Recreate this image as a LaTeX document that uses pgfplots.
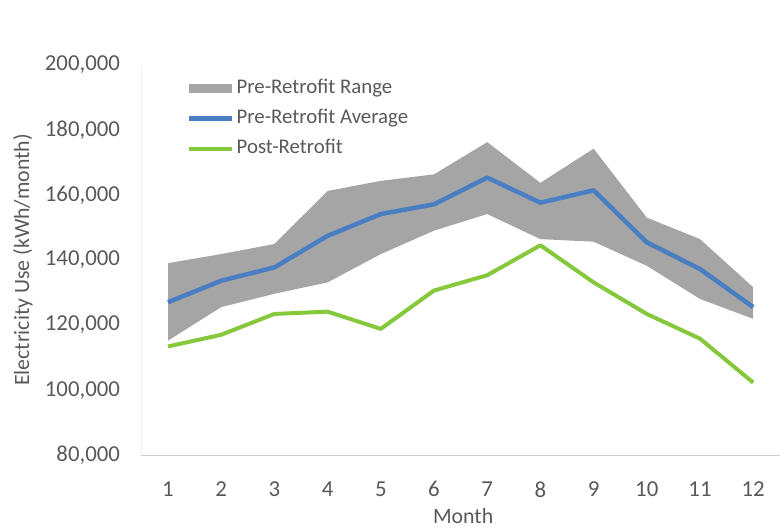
\documentclass[border=0pt]{standalone}
\usepackage{pgfplots}
\pgfplotsset{compat=1.18}
\usepgfplotslibrary{fillbetween}
\usepackage{fontspec}
\setmainfont{Carlito}
\definecolor{txt}{HTML}{595959}
\definecolor{rangegray}{HTML}{A5A5A5}
\definecolor{avgblue}{HTML}{4A7EC2}
\definecolor{postgreen}{HTML}{86C83C}
\begin{document}
\begin{tikzpicture}
\begin{axis}[
  at={(0,0)}, anchor=south west,
  scale only axis, width=641bp, height=392bp,
  xmin=0.5, xmax=12.5, ymin=80000, ymax=200000,
  xtick={1,...,12},
  xticklabels={1,2,3,4,5,6,7,8,9,10,11,12},
  ytick={80000,100000,120000,140000,160000,180000,200000},
  yticklabels={{80,000},{100,000},{120,000},{140,000},{160,000},{180,000},{200,000}},
  scaled y ticks=false,
  tick label style={font=\fontsize{23}{27}\selectfont, text=txt},
  xticklabel style={yshift=-23bp},
  yticklabel style={xshift=-18bp},
  major tick length=0pt,
  axis x line*=bottom, axis y line*=left,
  x axis line style={draw=black!18, -},
  y axis line style={draw=black!5, -},
  xlabel={Month}, ylabel={Electricity Use (kWh/month)},
  every axis x label/.style={at={(rel axis cs:0.504,-0.1556)}, anchor=center,
    font=\fontsize{22}{26}\selectfont, text=txt},
  every axis y label/.style={at={(rel axis cs:-0.1856,0.5)}, rotate=90, anchor=center,
    font=\fontsize{22}{26}\selectfont, text=txt},
  legend style={at={(45bp,380bp)}, anchor=north west, draw=none, fill=none,
    font=\fontsize{21}{25}\selectfont, text=txt, row sep=6bp,
    nodes={text height=15bp, text depth=5bp},
    inner xsep=0pt, inner ysep=0pt},
  legend cell align=left,
  clip=false,
]
\addplot[name path=upper, draw=none, forget plot] coordinates {
 (1,139000) (2,141800) (3,144900) (4,161200) (5,164300) (6,166300)
 (7,176200) (8,163700) (9,174200) (10,153000) (11,146400) (12,131600)};
\addplot[name path=lower, draw=none, forget plot] coordinates {
 (1,115200) (2,125500) (3,129600) (4,133100) (5,141800) (6,149000)
 (7,154100) (8,146400) (9,145600) (10,138200) (11,128000) (12,121900)};
\addplot[fill=rangegray, draw=none,
  legend image code/.code={\fill[rangegray] (0bp,-4.5bp) rectangle (44bp,4.5bp);}]
  fill between[of=upper and lower];
\addlegendentry{Pre-Retrofit Range}
\addplot[avgblue, line width=4.5bp, line join=round,
  legend image code/.code={\draw[avgblue, line width=4.5bp] (0bp,0bp) -- (44bp,0bp);}]
  coordinates {
 (1,127000) (2,133600) (3,137700) (4,147400) (5,154100) (6,157100)
 (7,165300) (8,157600) (9,161400) (10,145400) (11,137200) (12,125500)};
\addlegendentry{Pre-Retrofit Average}
\addplot[postgreen, line width=4bp, line join=round,
  legend image code/.code={\draw[postgreen, line width=4bp] (0bp,0bp) -- (44bp,0bp);}]
  coordinates {
 (1,113400) (2,117000) (3,123400) (4,124100) (5,118800) (6,130600)
 (7,135300) (8,144500) (9,133100) (10,123400) (11,115800) (12,102300)};
\addlegendentry{Post-Retrofit}
\end{axis}
\path[use as bounding box] (-142bp,-74bp) rectangle (638bp,457bp);
\end{tikzpicture}
\end{document}
